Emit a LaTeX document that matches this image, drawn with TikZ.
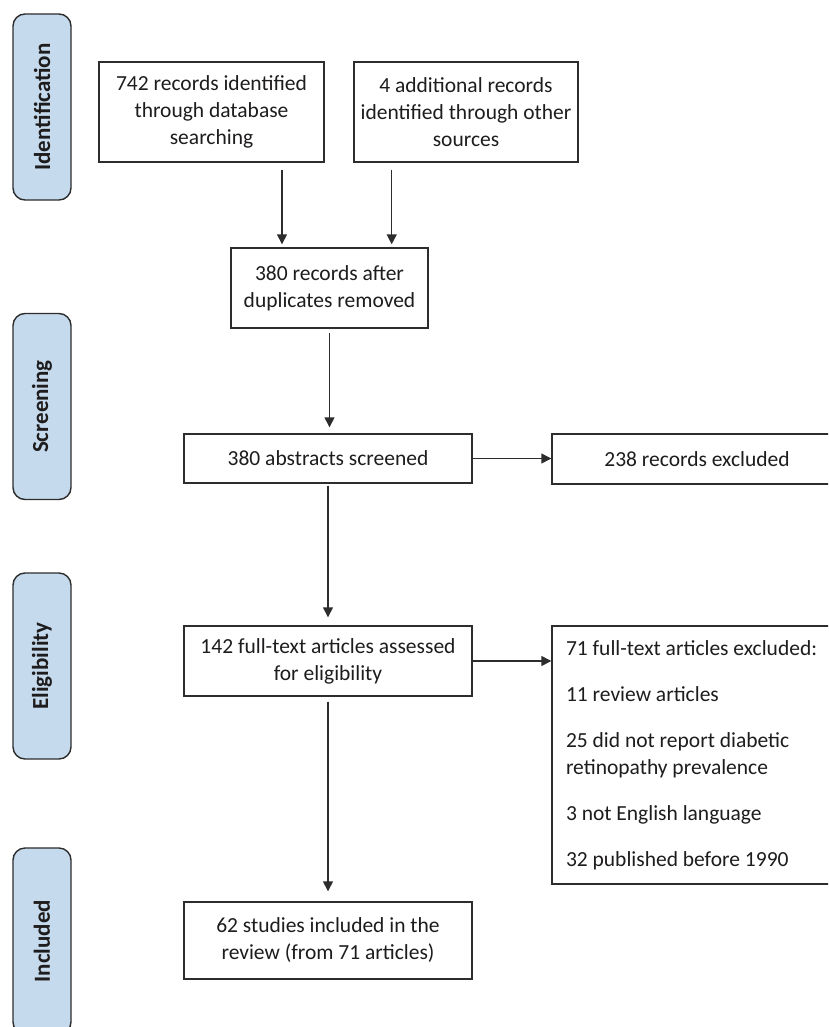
\documentclass[tikz,border=0pt]{standalone}
\usepackage{fontspec}
\setmainfont{Carlito}
\usetikzlibrary{arrows.meta,calc}
\definecolor{sidefill}{RGB}{197,218,237}
\definecolor{linegray}{RGB}{45,45,45}
\definecolor{txt}{RGB}{30,28,28}
\tikzset{
  box/.style={draw=linegray, line width=1.4pt, fill=white, align=center, inner sep=0pt, text=txt,
    font=\fontsize{21.5pt}{27pt}\selectfont},
  sidebox/.style={draw=linegray, line width=1.4pt, fill=sidefill, rounded corners=12pt, rotate=90,
    minimum width=186pt, minimum height=58pt, inner sep=0pt, text=txt,
    font=\fontsize{23pt}{27pt}\selectfont\bfseries},
  arr/.style={draw=linegray, line width=1.4pt, -{Triangle[length=10pt,width=10pt]}},
}
\begin{document}
\begin{tikzpicture}[x=1pt,y=-1pt]
\useasboundingbox (0,0) rectangle (828,1027);
\clip (0,0) rectangle (828,1027);
% side labels
\node[sidebox] (sid) at (42,107) {Identification};
\node[sidebox] (sscr) at (42,406.5) {Screening};
\node[sidebox] (sel) at (42,666) {Eligibility};
\node[sidebox] (sinc) at (42,941) {Included};
% boxes
\node[box, minimum width=225pt, minimum height=100pt] (id1) at (211.5,112)
  {742 records identified\\through database\\searching};
\node[box, minimum width=224pt, minimum height=100pt] (id2) at (466,112)
  {4 additional records\\identified through other\\sources};
\node[box, minimum width=197pt, minimum height=80pt] (dup) at (329.5,288)
  {380 records after\\duplicates removed};
\node[box, minimum width=288pt, minimum height=49pt] (scr) at (328,458.5)
  {380 abstracts screened};
\node[box, minimum width=290pt, minimum height=50pt] (ex1) at (697,459)
  {238 records excluded};
\node[box, minimum width=288pt, minimum height=70pt] (full) at (328,661)
  {142 full-text articles assessed\\for eligibility};
\node[box, minimum width=290pt, minimum height=258pt, text width=262pt, align=flush left] (ex2) at (697,755)
  {71 full-text articles excluded:\\[19pt]11 review articles\\[19pt]25 did not report diabetic\\retinopathy prevalence\\[19pt]3 not English language\\[19pt]32 published before 1990};
\node[box, minimum width=288pt, minimum height=77pt] (inc) at (328,940.5)
  {62 studies included in the\\review (from 71 articles)};
% connectors
\draw[arr, shorten <=7pt, shorten >=3pt] ([xshift=70.5pt]id1.south) -- ([xshift=70.5pt]id1.south |- dup.north);
\draw[arr, shorten <=7pt, shorten >=3pt] ([xshift=-74.3pt]id2.south) -- ([xshift=-74.3pt]id2.south |- dup.north);
\draw[arr, shorten <=4.5pt, shorten >=6pt] (dup.south) -- (dup.south |- scr.north);
\draw[arr] (scr.east) -- (scr.east -| ex1.west);
\draw[arr, shorten <=2pt, shorten >=8pt] (scr.south) -- (full.north);
\draw[arr] (full.east) -- (full.east -| ex2.west);
\draw[arr, shorten <=5pt, shorten >=10pt] (full.south) -- (inc.north);
\end{tikzpicture}
\end{document}
